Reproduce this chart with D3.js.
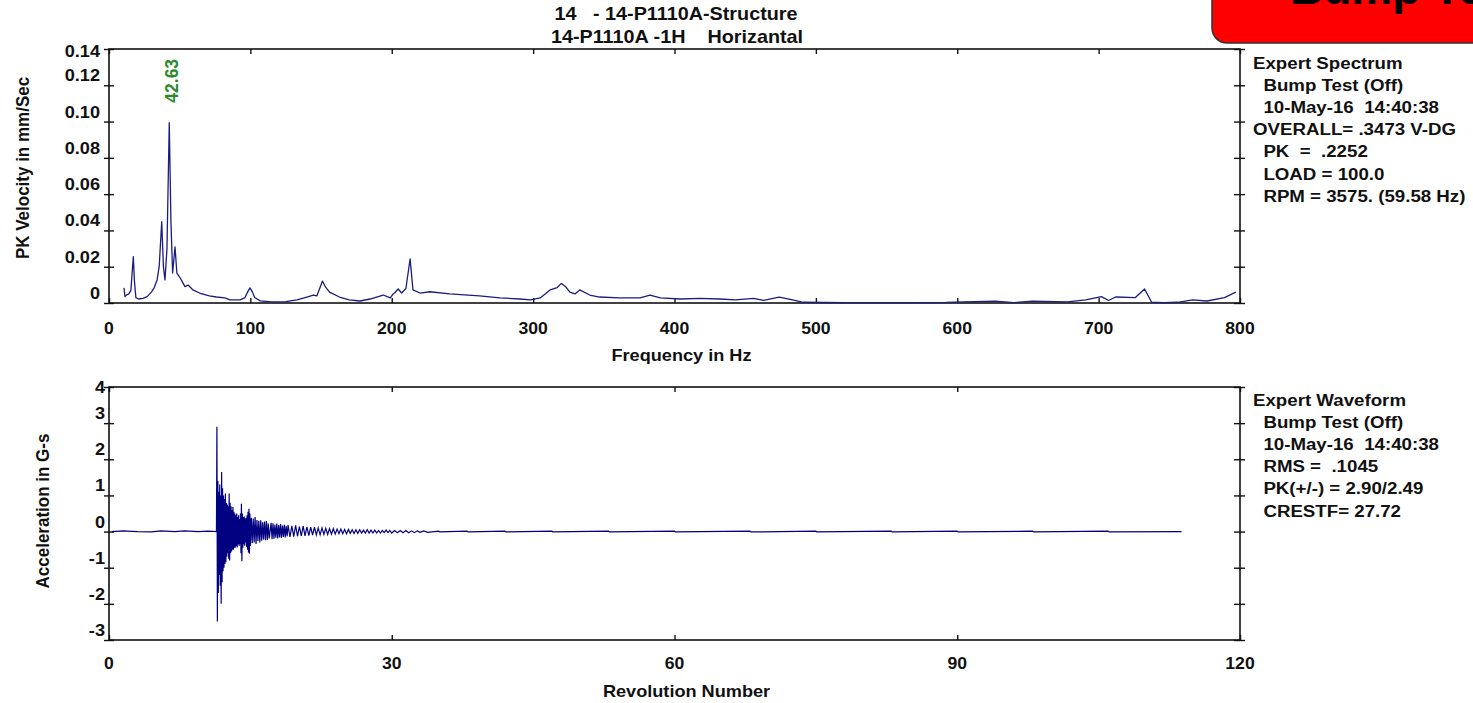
<!DOCTYPE html>
<html lang="en">
<head>
	<meta charset="UTF-8"/>
	<title>Bump Test - Spectrum and Waveform</title>
	<script src="https://d3js.org/d3.v7.min.js"></script>
	<style>
		body { margin: 0; background: #fff; }
		svg { display: block; }
		text { font-family: "Liberation Sans", Arial, sans-serif; font-weight: bold; fill: #111; white-space: pre; }
	</style>
</head>
<body>
<script>
var w = 1473;
var h = 703;

// ---- spectrum (top) ----
var specFreq = [10.6, 11.3, 12.5, 14, 15.5, 16.5, 17.2, 18, 19, 21, 24, 27, 30, 32, 34, 35.5, 37.3, 38.5, 39.6, 41,
	42.63, 43.8, 45, 46.7, 48, 50, 52, 53.7, 56, 59.4, 64, 71, 76, 82, 85.6, 92.7, 96, 98, 99.7, 101.5,
	103, 107, 115, 125, 133, 140, 144.5, 147, 149, 151, 153, 156, 163, 170, 177.5, 184.6, 194, 199, 201, 202,
	204.5, 207, 210, 213, 215, 220, 227, 241, 262, 276.6, 290.7, 298, 305, 312, 317, 320, 323, 326, 329.6, 333,
	340, 347, 361, 375.6, 382.7, 390, 404, 418, 432, 443, 456, 463, 474, 483.6, 491, 520, 560, 592, 605, 627,
	640, 653, 678, 690.8, 702, 707, 712, 726, 732.5, 737.5, 746, 756, 766.5, 776.7, 789, 797];
var specVel = [0.0083, 0.0035, 0.0045, 0.005, 0.007, 0.018, 0.0255, 0.012, 0.003, 0.0022, 0.0025, 0.0035, 0.006, 0.0085, 0.0127, 0.02, 0.0448, 0.02, 0.0127, 0.03,
	0.0994, 0.045, 0.0165, 0.0309, 0.0165, 0.0143, 0.0115, 0.009, 0.0099, 0.0072, 0.0055, 0.0039, 0.0033, 0.0028, 0.0017, 0.0017, 0.0028, 0.006, 0.0083, 0.006,
	0.003, 0.0012, 0.0006, 0.0008, 0.0017, 0.0033, 0.0044, 0.0039, 0.008, 0.0121, 0.009, 0.006, 0.0033, 0.0017, 0.0011, 0.0022, 0.0044, 0.0028, 0.005, 0.0055,
	0.0077, 0.0055, 0.008, 0.0243, 0.0072, 0.0055, 0.0062, 0.005, 0.0039, 0.0028, 0.0022, 0.0017, 0.0028, 0.0072, 0.0085, 0.0108, 0.009, 0.006, 0.005, 0.0072,
	0.0044, 0.0033, 0.0028, 0.0028, 0.0044, 0.0028, 0.0022, 0.0025, 0.0022, 0.0017, 0.0025, 0.0014, 0.0033, 0.0017, 0.0004, 0.0002, 0.0002, 0.0003, 0.0006, 0.001,
	0.0002, 0.001, 0.0006, 0.0017, 0.0035, 0.0014, 0.0033, 0.003, 0.0077, 0.0004, 0.0002, 0.0004, 0.0017, 0.0011, 0.003, 0.006];
var specXTicks = [0, 100, 200, 300, 400, 500, 600, 700, 800];
var specYTicks = [0, 0.02, 0.04, 0.06, 0.08, 0.10, 0.12, 0.14];
var specYLabels = ["0", "0.02", "0.04", "0.06", "0.08", "0.10", "0.12", "0.14"];
var peakFreq = 42.63;

// ---- waveform (bottom) ----
var waveRev = [0.3, 1.5, 3, 4.5, 5.5, 7, 8, 9.5, 10.5, 11.4,
	11.45, 11.5, 11.55, 11.6, 11.65, 11.7, 11.75, 11.8, 11.85, 11.9, 11.95, 12.0, 12.05, 12.1, 12.15, 12.2, 12.25, 12.3, 12.35, 12.4,
	12.45, 12.5, 12.55, 12.6, 12.65, 12.7, 12.75, 12.8, 12.85, 12.9, 12.95, 13.0, 13.05, 13.1, 13.15, 13.2, 13.25, 13.3, 13.35, 13.4,
	13.45, 13.5, 13.55, 13.6, 13.65, 13.7, 13.75, 13.8, 13.85, 13.9, 13.95, 14.0, 14.05, 14.1, 14.15, 14.2, 14.25, 14.3, 14.35, 14.4,
	14.45, 14.5, 14.55, 14.6, 14.65, 14.7, 14.75, 14.8, 14.85, 14.9, 14.95, 15.0, 15.1, 15.2, 15.3, 15.4, 15.5, 15.6, 15.7, 15.8,
	15.9, 16.0, 16.1, 16.2, 16.3, 16.4, 16.5, 16.6, 16.7, 16.8, 16.9, 17.0, 17.2, 17.3, 17.4, 17.5, 17.6, 17.7, 17.8, 17.9,
	18.0, 18.1, 18.2, 18.3, 18.4, 18.5, 18.6, 18.7, 18.8, 18.9,
	19.0, 19.2, 19.4, 19.6, 19.8, 20.0, 20.2, 20.4, 20.6, 20.8, 21.0, 21.2, 21.4, 21.6, 21.8, 22.0, 22.2, 22.4, 22.6, 22.8,
	23.0, 23.2, 23.4, 23.6, 23.8, 24.0, 24.2, 24.4, 24.6, 24.8, 25.0, 25.2, 25.4, 25.6, 25.8, 26.0, 26.2, 26.4, 26.6, 26.8,
	27.0, 27.2, 27.4, 27.6, 27.8, 28.0, 28.2, 28.4, 28.6, 28.8, 29.0, 29.2, 29.4, 29.6, 29.8, 30.0, 30.3, 30.6, 30.9, 31.2,
	31.5, 31.8, 32.1, 32.4, 32.7, 33.0, 33.4, 33.8,
	35, 35.1, 38, 38.1, 42, 42.1, 47, 47.1, 53, 53.1, 60, 60.1, 68, 68.1, 75, 75.1, 83, 83.1,
	90, 90.1, 98, 98.1, 106, 106.1, 113.8];
var waveAcc = [0, 0.02, 0, -0.01, 0.02, 0, 0.02, 0, 0.01, 0,
	2.9, -2.49, 1.4, -1.7, 1.1, -1.2, 1.3, -1.5, 1.0, -2.0, 1.65, -1.4, 1.2, -1.1, 1.0, -1.0, 0.9, -0.9, 1.05, -0.85,
	0.8, -0.7, 0.75, -0.6, 0.7, -0.75, 1.05, -0.8, 0.8, -0.6, 0.7, -0.55, 0.6, -0.5, 0.68, -0.5, 0.55, -0.45, 0.5, -0.45,
	0.45, -0.4, 0.5, -0.44, 0.4, -0.35, 0.45, -0.4, 0.35, -0.35, 0.5, -0.6, 0.77, -0.82, 0.5, -0.45, 0.4, -0.35, 0.42, -0.39,
	0.36, -0.3, 0.38, -0.42, 0.45, -0.5, 0.55, -0.58, 0.63, -0.61, 0.5, -0.4, 0.38, -0.32, 0.36, -0.3, 0.4, -0.34, 0.32, -0.26,
	0.3, -0.3, 0.31, -0.25, 0.26, -0.22, 0.28, -0.24, 0.29, -0.23, 0.22, -0.19, 0.24, -0.21, 0.23, -0.2, 0.19, -0.17, 0.22, -0.19,
	0.18, -0.16, 0.21, -0.18, 0.17, -0.15, 0.19, -0.16, 0.15, -0.13,
	0.18, -0.15, 0.16, -0.14, 0.17, -0.13, 0.14, -0.12, 0.15, -0.12, 0.13, -0.11, 0.12, -0.1, 0.12, -0.09, 0.1, -0.09, 0.1, -0.08,
	0.09, -0.08, 0.08, -0.07, 0.08, -0.07, 0.07, -0.06, 0.07, -0.06, 0.06, -0.06, 0.06, -0.05, 0.05, -0.05, 0.05, -0.05, 0.05, -0.04,
	0.04, -0.04, 0.05, -0.04, 0.04, -0.04, 0.04, -0.04, 0.03, -0.04, 0.03, -0.03, 0.04, -0.03, 0.03, -0.04, 0.03, -0.03, 0.03, -0.03,
	0.03, -0.03, 0.02, -0.03, 0.02, -0.02, 0.02, -0.02,
	0.01, -0.01, 0.01, -0.01, 0.01, -0.01, 0.01, -0.01, 0.01, -0.01, 0.01, -0.01, 0.01, -0.01, 0.01, -0.01, 0.01, -0.01,
	0.01, -0.01, 0.01, -0.01, 0.01, -0.01, 0];
var waveXTicks = [0, 30, 60, 90, 120];
var waveYTicks = [-3, -2, -1, 0, 1, 2, 3, 4];

// ---- texts ----
var titleLines = ["14   - 14-P1110A-Structure", "14-P1110A -1H    Horizantal"];
var specInfo = ["Expert Spectrum", "  Bump Test (Off)", "  10-May-16  14:40:38", "OVERALL= .3473 V-DG",
	"  PK  =  .2252", "  LOAD = 100.0", "  RPM = 3575. (59.58 Hz)"];
var waveInfo = ["Expert Waveform", "  Bump Test (Off)", "  10-May-16  14:40:38", "  RMS =  .1045",
	"  PK(+/-) = 2.90/2.49", "  CRESTF= 27.72"];

var left = 109, right = 1240;
var top1 = 49, bot1 = 303;
var top2 = 387, bot2 = 640;
var sx = 1.1;  // the source picture is slightly stretched sideways

var svg = d3.select("body")
	.append("svg")
	.attr("width", w)
	.attr("height", h);

function label(x, y, str, size, anchor, rot) {
	var t = "translate(" + x + "," + y + ") scale(" + sx + ",1)" + (rot ? " rotate(" + rot + ")" : "");
	return svg.append("text")
		.attr("transform", t)
		.attr("font-size", size + "px")
		.attr("text-anchor", anchor || "start")
		.text(str);
}

// red banner in the corner (its text runs off the top, as in the source)
svg.append("rect")
	.attr("x", 1212).attr("y", -25)
	.attr("width", 300).attr("height", 68)
	.attr("rx", 15)
	.attr("fill", "#ff0000")
	.attr("stroke", "#333")
	.attr("stroke-width", 1.5);
svg.append("text")
	.attr("x", 1290).attr("y", 4)
	.attr("font-size", "46px")
	.style("fill", "#000")
	.text("Bump Test");

// titles
label(676, 20, titleLines[0], 18, "middle");
label(677, 42.5, titleLines[1], 18, "middle");

function frame(xScale, yScale, xTicks, yTicks, y0, y1) {
	var g = svg.append("g");
	var yIn = d3.axisRight(yScale).tickValues(yTicks).tickSize(5).tickFormat("");
	var yOut = d3.axisLeft(yScale).tickValues(yTicks).tickSize(5).tickFormat("");
	var yIn2 = d3.axisLeft(yScale).tickValues(yTicks).tickSize(6).tickFormat("");
	var yOut2 = d3.axisRight(yScale).tickValues(yTicks).tickSize(5).tickFormat("");
	g.append("g").attr("transform", "translate(" + left + ",0)").call(yIn);
	g.append("g").attr("transform", "translate(" + left + ",0)").call(yOut);
	g.append("g").attr("transform", "translate(" + right + ",0)").call(yIn2);
	g.append("g").attr("transform", "translate(" + right + ",0)").call(yOut2);
	g.append("g").attr("transform", "translate(0," + y1 + ")")
		.call(d3.axisTop(xScale).tickValues(xTicks).tickSize(5).tickFormat(""));
	g.append("g").attr("transform", "translate(0," + y0 + ")")
		.call(d3.axisBottom(xScale).tickValues(xTicks).tickSize(5).tickFormat(""));
	g.selectAll(".domain").remove();
	g.selectAll(".tick line").attr("stroke", "#111").attr("stroke-width", 1.4);
	g.append("rect")
		.attr("x", left).attr("y", y0)
		.attr("width", right - left).attr("height", y1 - y0)
		.attr("fill", "none")
		.attr("stroke", "#111")
		.attr("stroke-width", 1.6);
}

// ---------- spectrum ----------
var xSpec = d3.scaleLinear().domain([0, 800]).range([left, right]);
var ySpec = d3.scaleLinear().domain([0, 0.14]).range([bot1, top1]);

frame(xSpec, ySpec, specXTicks, specYTicks, top1, bot1);

var specLine = d3.line()
	.x(function (d, i) { return xSpec(specFreq[i]); })
	.y(function (d) { return ySpec(d); });

svg.append("path")
	.datum(specVel)
	.attr("d", specLine)
	.attr("fill", "none")
	.attr("stroke", "#1c1c80")
	.attr("stroke-width", 1.3)
	.attr("stroke-linejoin", "round");

specXTicks.forEach(function (t) {
	label(xSpec(t), bot1 + 31, String(t), 16, "middle");
});
specYTicks.forEach(function (t, i) {
	var y = Math.max(ySpec(t) - 4, top1 + 8);
	label(left - 9, y, specYLabels[i], 16.5, "end");
});
label((left + right) / 2 + 7, bot1 + 58, "Frequency in Hz", 16.5, "middle");
label(29, 168, "PK Velocity in mm/Sec", 17, "middle", -90);

// peak marker
var peakIdx = specFreq.indexOf(peakFreq);
label(xSpec(peakFreq) + 8.5, ySpec(specVel[peakIdx]) - 20, peakFreq.toFixed(2), 17.5, "start", -90)
	.style("fill", "#2a8a2a");

specInfo.forEach(function (s, i) {
	label(1253, 69 + i * 22.1, s, 17, "start");
});

// ---------- waveform ----------
var xWave = d3.scaleLinear().domain([0, 120]).range([left, right]);
var yWave = d3.scaleLinear().domain([-3, 4]).range([bot2, top2]);

frame(xWave, yWave, waveXTicks, waveYTicks, top2, bot2);

var waveLine = d3.line()
	.x(function (d, i) { return xWave(waveRev[i]); })
	.y(function (d) { return yWave(d); });

svg.append("path")
	.datum(waveAcc)
	.attr("d", waveLine)
	.attr("fill", "none")
	.attr("stroke", "#000080")
	.attr("stroke-width", 1.2);

waveXTicks.forEach(function (t) {
	label(xWave(t), bot2 + 29, String(t), 16, "middle");
});
waveYTicks.forEach(function (t) {
	var y = Math.max(yWave(t) - 4, top2 + 6);
	label(left - 4, y, String(t), 16.5, "end");
});
label((left + right) / 2 + 12, bot2 + 57, "Revolution Number", 16.5, "middle");
label(48.5, 511, "Acceleration in G-s", 17, "middle", -90);

waveInfo.forEach(function (s, i) {
	label(1253, 405.5 + i * 22.2, s, 17, "start");
});
</script>
</body>
</html>
